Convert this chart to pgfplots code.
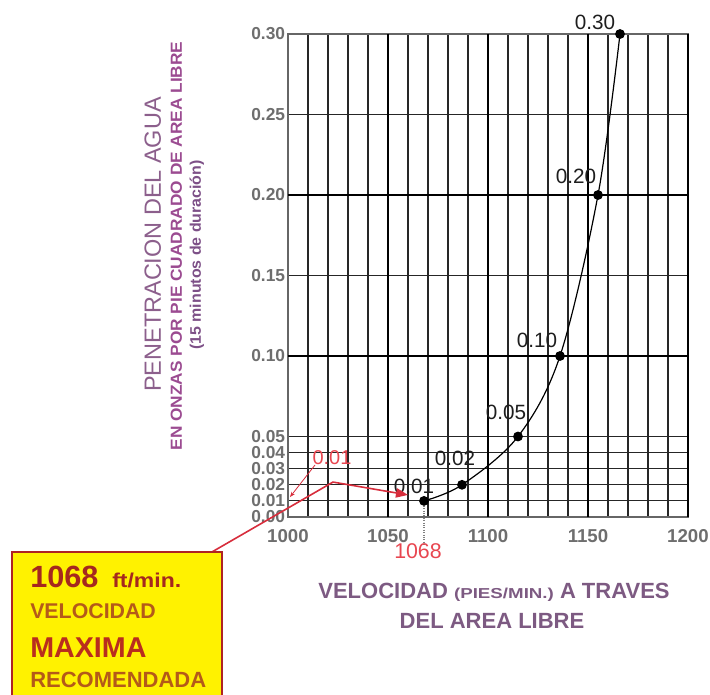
\documentclass[border=0pt]{standalone}
\usepackage{fontspec}
\setmainfont{Liberation Sans}
\usepackage{graphicx}
\usepackage{pgfplots}
\pgfplotsset{compat=1.18}
\usetikzlibrary{arrows.meta}
\definecolor{tickc}{RGB}{110,110,110}
\definecolor{ptlab}{RGB}{30,30,30}
\definecolor{xlab}{RGB}{125,90,130}
\definecolor{ylabA}{RGB}{140,95,140}
\definecolor{ylabB}{RGB}{155,75,145}
\definecolor{ylabC}{RGB}{125,80,135}
\definecolor{redline}{RGB}{215,45,60}
\definecolor{lightred}{RGB}{232,70,80}
\definecolor{boxred}{RGB}{175,35,35}
\definecolor{boxyellow}{RGB}{255,242,0}
\definecolor{cdark}{RGB}{165,40,30}
\definecolor{corange}{RGB}{180,90,25}
\definecolor{cmax}{RGB}{185,45,30}
\begin{document}
\begin{tikzpicture}
\begin{axis}[
  at={(0,0)}, anchor=south west,
  scale only axis, width=300pt, height=362.25pt,
  xmin=1000, xmax=1200, ymin=0, ymax=0.30,
  xtick={1000,1050,1100,1150,1200},
  minor xtick={1010,1020,1030,1040,1060,1070,1080,1090,1110,1120,1130,1140,1160,1170,1180,1190},
  ytick={0,0.01,0.02,0.03,0.04,0.05,0.10,0.15,0.20,0.25,0.30},
  grid=both,
  major grid style={black!85, line width=0.85pt},
  minor grid style={black!85, line width=0.85pt},
  major tick length=0pt, minor tick length=0pt,
  axis line style={black!60, line width=0.8pt},
  extra x ticks={1050,1100,1150,1200},
  extra x tick labels={},
  extra x tick style={grid=major, major grid style={black, line width=1.9pt}},
  extra y ticks={0.10,0.20},
  extra y tick labels={},
  extra y tick style={grid=major, major grid style={black, line width=1.9pt}},
  /pgf/number format/assume math mode=true,
  /pgf/number format/1000 sep={},
  xticklabel style={font=\fontsize{14}{14}\selectfont\bfseries, text=tickc, inner sep=0pt, yshift=-9pt},
  yticklabel style={font=\fontsize{13}{13}\selectfont\bfseries, text=tickc, inner sep=0pt, xshift=-2pt,
    /pgf/number format/.cd, fixed, fixed zerofill, precision=2},
  clip=false,
]
\addplot[black, line width=0.9pt, smooth, tension=0.55, mark=*, mark size=3.2pt, mark options={fill=black}]
  coordinates {(1068,0.01) (1087,0.02) (1115,0.05) (1136,0.10) (1155,0.20) (1166,0.30)};

\tikzset{plab/.style={text=ptlab, inner sep=0pt, font=\fontsize{15.5}{15.5}\selectfont}}
\node[plab] at ([shift={(-18.75pt,9pt)}]axis cs:1166,0.30) {0.30};
\node[plab] at ([shift={(-16.5pt,14.25pt)}]axis cs:1155,0.20) {0.20};
\node[plab] at ([shift={(-17.25pt,12pt)}]axis cs:1136,0.10) {0.10};
\node[plab] at ([shift={(-9pt,18pt)}]axis cs:1115,0.05) {0.05};
\node[plab] at ([shift={(-5.25pt,19.5pt)}]axis cs:1087,0.02) {0.02};
\node[plab] at ([shift={(-7.5pt,11.25pt)}]axis cs:1068,0.01) {0.01};

\draw[redline, line width=1.2pt, -{Triangle[length=9pt,width=7pt]}]
  (axis cs:962,-0.0217) -- (axis cs:1022.5,0.0217) -- (axis cs:1060,0.0137);
\draw[redline, line width=0.6pt, -{Stealth[length=4pt]}]
  (axis cs:1013.5,0.0323) -- (axis cs:1001,0.0124);
\node[text=lightred, inner sep=0pt, font=\fontsize{15}{15}\selectfont] at (axis cs:1022,0.0366) {0.01};
\draw[gray, densely dotted, line width=0.8pt] (axis cs:1068,0.01) -- (axis cs:1068,-0.0174);
\node[text=lightred, inner sep=0pt, font=\fontsize{16}{16}\selectfont] at (axis cs:1065,-0.0211) {1068};
\end{axis}

% yellow box
\draw[draw=boxred, line width=2.2pt, fill=boxyellow] (-207pt,-26.25pt) rectangle (-49.5pt,-150pt);
\node[anchor=base west, inner sep=0pt, text=cdark, font=\fontsize{23}{23}\selectfont\bfseries] at (-193.5pt,-52.5pt) {1068};
\node[anchor=base west, inner sep=0pt, text=cdark, font=\fontsize{15}{15}\selectfont\bfseries] at (-132pt,-52.5pt) {\scalebox{1.15}[1]{ft/min.}};
\node[anchor=base west, inner sep=0pt, text=corange, font=\fontsize{16}{16}\selectfont\bfseries] at (-193.5pt,-75.75pt) {VELOCIDAD};
\node[anchor=base west, inner sep=0pt, text=cmax, font=\fontsize{21.5}{21.5}\selectfont\bfseries] at (-193.5pt,-105pt) {MAXIMA};
\node[anchor=base west, inner sep=0pt, text=corange, font=\fontsize{16.5}{16.5}\selectfont\bfseries] at (-193.5pt,-127.5pt) {RECOMENDADA};

% x title
\node[anchor=base, inner sep=0pt, text=xlab, font=\fontsize{16.5}{16.5}\selectfont\bfseries] at (154.5pt,-60.75pt)
  {VELOCIDAD {\fontsize{10.8}{10.8}\selectfont\scalebox{1.3}[1]{(PIES/MIN.)}} A TRAVES};
\node[anchor=base, inner sep=0pt, text=xlab, font=\fontsize{16.5}{16.5}\selectfont\bfseries] at (153pt,-83.25pt)
  {DEL AREA LIBRE};

% y title
\node[rotate=90, anchor=base, inner sep=0pt, text=ylabA, font=\fontsize{17.6}{17.6}\selectfont] at (-95.25pt,204.4pt)
  {PENETRACION DEL AGUA};
\node[rotate=90, anchor=base, inner sep=0pt, text=ylabB, font=\fontsize{12}{12}\selectfont\bfseries] at (-79.5pt,203.25pt)
  {\scalebox{1.08}[1]{EN ONZAS POR PIE CUADRADO DE AREA LIBRE}};
\node[rotate=90, anchor=base, inner sep=0pt, text=ylabC, font=\fontsize{11.5}{11.5}\selectfont\bfseries] at (-65.25pt,196.5pt)
  {\scalebox{1.04}[1]{(15 minutos de duración)}};

\pgfresetboundingbox
\path[use as bounding box] (-216pt,-132.75pt) rectangle (316.5pt,387.75pt);
\end{tikzpicture}
\end{document}
